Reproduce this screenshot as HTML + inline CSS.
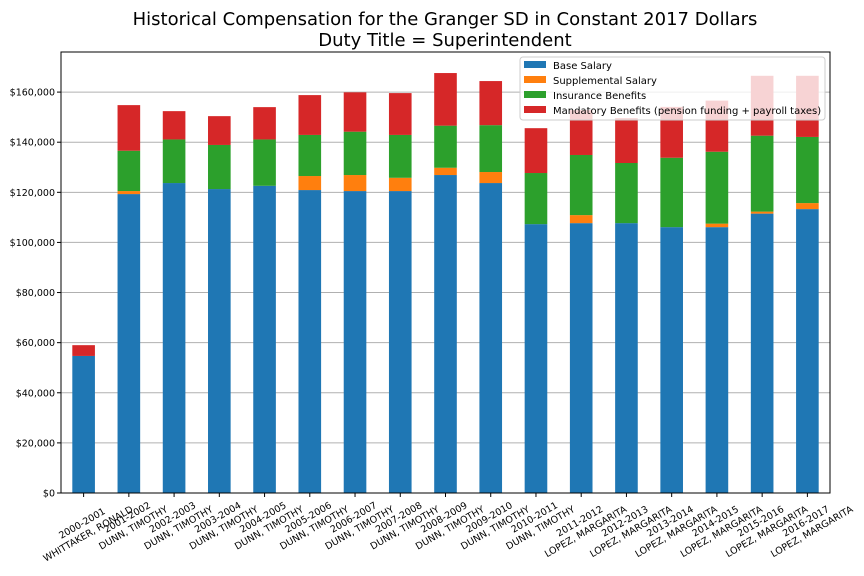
<!DOCTYPE html>
<html><head><meta charset="utf-8"><style>
body{margin:0;background:#fff;}
svg{display:block;font-family:"DejaVu Sans","Liberation Sans",sans-serif;}
</style></head><body>
<svg id="chart" width="864" height="576">
<text x="445" y="25" font-size="18" text-anchor="middle">Historical Compensation for the Granger SD in Constant 2017 Dollars</text>
<text x="445" y="46" font-size="18" text-anchor="middle">Duty Title = Superintendent</text>
<g id="grid"></g><g id="bars"></g><g id="axes"></g><g id="legend"></g>
</svg>
<script>
const years=["2000-2001","2001-2002","2002-2003","2003-2004","2004-2005","2005-2006","2006-2007","2007-2008","2008-2009","2009-2010","2010-2011","2011-2012","2012-2013","2013-2014","2014-2015","2015-2016","2016-2017"];
const names=["WHITTAKER, RONALD","DUNN, TIMOTHY","DUNN, TIMOTHY","DUNN, TIMOTHY","DUNN, TIMOTHY","DUNN, TIMOTHY","DUNN, TIMOTHY","DUNN, TIMOTHY","DUNN, TIMOTHY","DUNN, TIMOTHY","DUNN, TIMOTHY","LOPEZ, MARGARITA","LOPEZ, MARGARITA","LOPEZ, MARGARITA","LOPEZ, MARGARITA","LOPEZ, MARGARITA","LOPEZ, MARGARITA"];
const baseSalary=[54700,119300,123700,121300,122600,120900,120500,120500,126900,123700,107300,107700,107700,106100,106100,111500,113300];
const supplementalSalary=[0,1200,0,0,0,5600,6400,5300,2900,4400,0,3200,0,0,1400,800,2400];
const insuranceBenefits=[0,16100,17400,17600,18500,16400,17300,17100,16800,18700,20400,24000,24000,27700,28700,30300,26400];
const mandatoryBenefits=[4300,18200,11300,11500,12900,15900,15700,16700,21000,17600,17900,17900,17900,20300,20400,23900,24400];
const yTicks=[0,20000,40000,60000,80000,100000,120000,140000,160000];
const seriesLabels=["Base Salary","Supplemental Salary","Insurance Benefits","Mandatory Benefits (pension funding + payroll taxes)"];
const colors=["#1f77b4","#ff7f0e","#2ca02c","#d62728"];
const NS="http://www.w3.org/2000/svg";
const L=61,R=830,T=52,B=493,YMAX=176000;
const n=years.length, step=(R-L)/n;
const y=v=>B-v/YMAX*(B-T);
const xc=i=>L+step*(i+0.5);
function mk(tag,attrs,parent){const e=document.createElementNS(NS,tag);for(const k in attrs)e.setAttribute(k,attrs[k]);parent.appendChild(e);return e;}
const grid=document.getElementById('grid'),bars=document.getElementById('bars'),axes=document.getElementById('axes'),leg=document.getElementById('legend');
yTicks.forEach(t=>{
 const g=mk('line',{x1:L,x2:R,y1:y(t),y2:y(t),stroke:'#b0b0b0','stroke-width':1},grid);
 
 
 mk('line',{x1:L-4,x2:L,y1:y(t),y2:y(t),stroke:'#000'},axes);
 const tx=mk('text',{x:L-6,y:y(t)+3.5,'font-size':9.5,'text-anchor':'end'},axes);
 tx.textContent='$'+t.toLocaleString('en-US');
 
 
});
const series=[baseSalary,supplementalSalary,insuranceBenefits,mandatoryBenefits];
const bw=step*0.5;
for(let i=0;i<n;i++){
 let acc=0;
 series.forEach((s,k)=>{
  const v=s[i]; if(v<=0){return;}
  const r=mk('rect',{x:xc(i)-bw/2,y:y(acc+v),width:bw,height:y(acc)-y(acc+v),fill:colors[k]},bars);
  
  
  acc+=v;
 });
 mk('line',{x1:xc(i),x2:xc(i),y1:B,y2:B+4,stroke:'#000'},axes);
 const g=mk('g',{},axes);
 
 
 const t1=mk('text',{'font-size':9.5,'text-anchor':'middle',x:0,y:-2},g);t1.textContent=years[i];
 const t2=mk('text',{'font-size':9.5,'text-anchor':'middle',x:0,y:10},g);t2.textContent=names[i];
 const w=Math.max(t1.getComputedTextLength(),t2.getComputedTextLength());
 const h=24;
 const ext=w*0.5+h*0.866;
 g.setAttribute('transform','translate('+(xc(i)+1)+','+(B+ext/2-1)+') rotate(-30)');
}
mk('rect',{x:L,y:T,width:R-L,height:B-T,fill:'none',stroke:'#000','stroke-width':1},axes);
const lb=mk('rect',{x:520,y:57,width:305,height:63,rx:3,fill:'#fff','fill-opacity':0.8,stroke:'#cccccc'},leg);


seriesLabels.forEach((s,k)=>{
 const yy=65+k*15;
 const g=mk('g',{},leg);
 
 
 mk('rect',{x:524,y:yy-4,width:22,height:7,fill:colors[k]},g);
 const t=mk('text',{x:553,y:yy+4,'font-size':10},g);t.textContent=s;
});
</script>
</body></html>
